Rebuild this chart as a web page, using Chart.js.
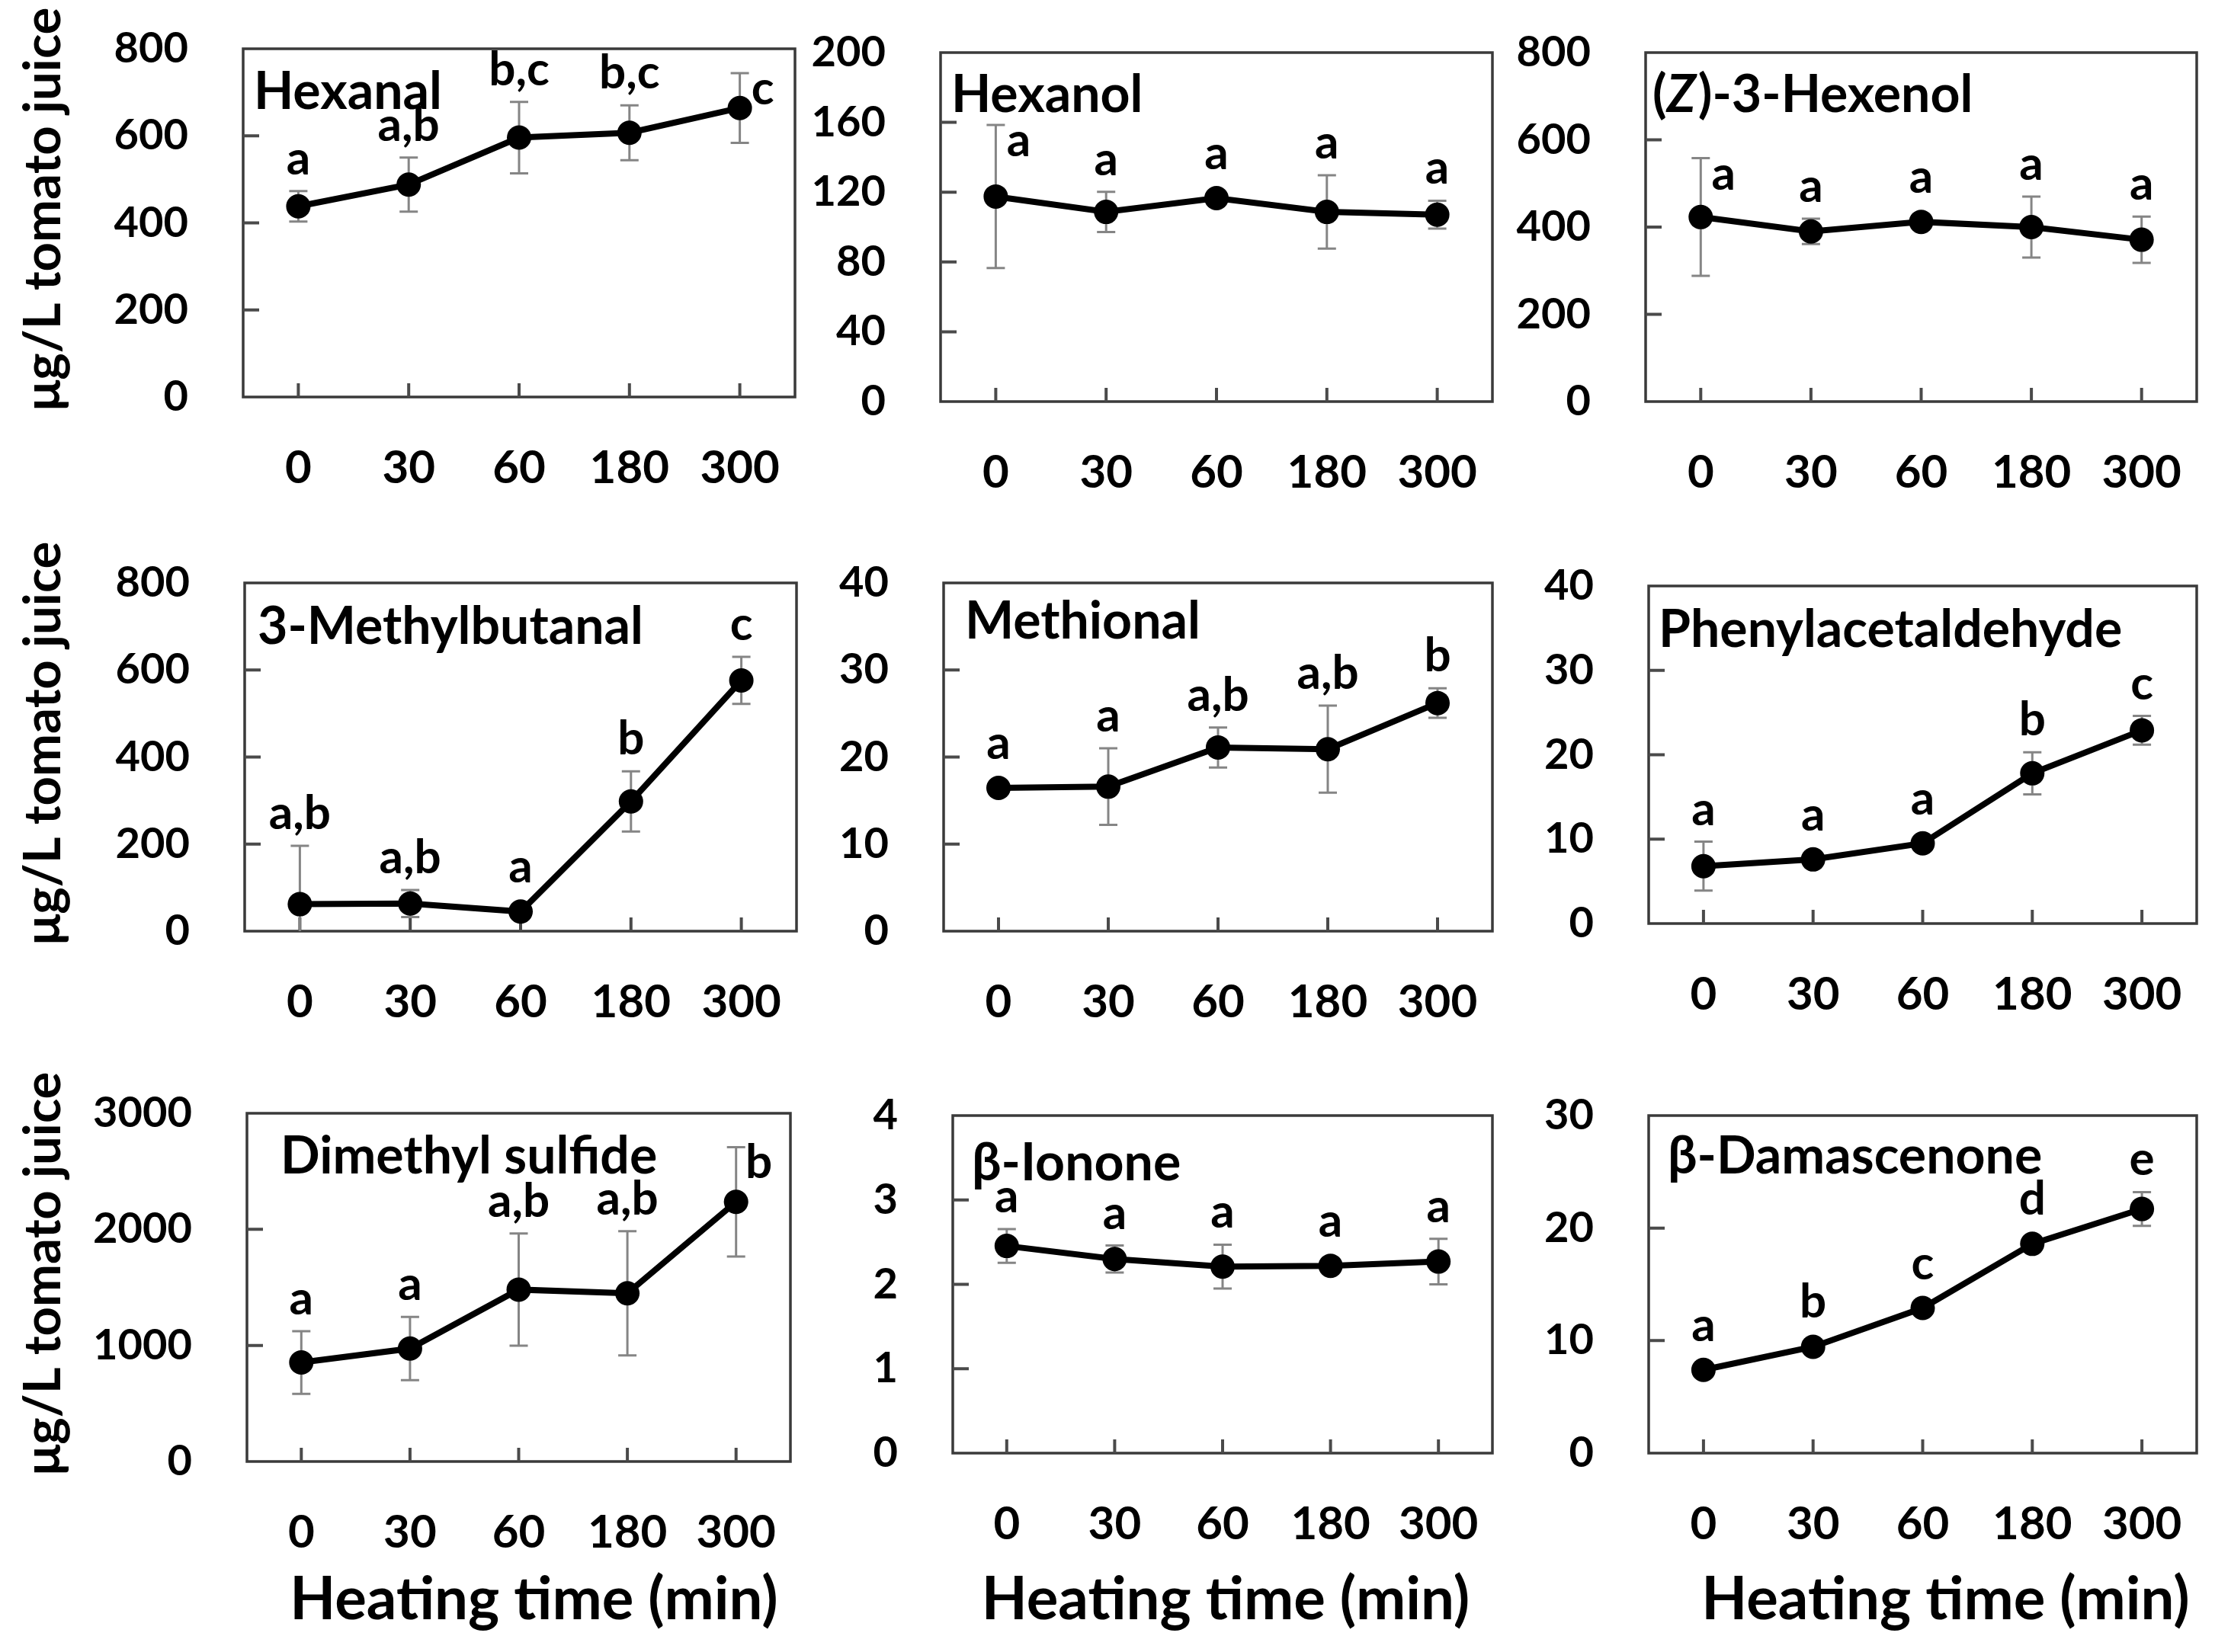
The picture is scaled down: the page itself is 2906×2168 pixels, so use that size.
<!DOCTYPE html>
<html><head><meta charset="utf-8">
<script src="https://cdn.jsdelivr.net/npm/chart.js@4.4.0/dist/chart.umd.min.js"></script>
<style>
html,body{margin:0;padding:0;background:#fff;width:2906px;height:2168px;overflow:hidden;}
#wrap{position:relative;width:2906px;height:2168px;background:#fff;}
canvas{position:absolute;}
</style></head><body><div id="wrap"></div>
<script>
// ---------- data ----------
const times = ['0', '30', '60', '180', '300'];

const hexanal = [438, 488, 596, 607, 664];
const hexanalErr = [35, 62, 82, 63, 80];
const hexanalLetters = ['a', 'a,b', 'b,c', 'b,c', 'c'];

const hexanol = [117.5, 108.7, 116.6, 108.7, 107.1];
const hexanolErr = [41, 11.5, 3, 21, 8];
const hexanolLetters = ['a', 'a', 'a', 'a', 'a'];

const hexenol = [423, 390, 412, 400, 371];
const hexenolErr = [135, 29, 10, 70, 53];
const hexenolLetters = ['a', 'a', 'a', 'a', 'a'];

const methylbutanal = [62, 63.5, 45, 298, 576];
const methylbutanalErr = [134, 31, 10, 69, 54];
const methylbutanalLetters = ['a,b', 'a,b', 'a', 'b', 'c'];

const methional = [16.45, 16.6, 21.1, 20.9, 26.2];
const methionalErr = [0.5, 4.4, 2.3, 5.0, 1.7];
const methionalLetters = ['a', 'a', 'a,b', 'a,b', 'b'];

const phenylacetaldehyde = [6.8, 7.6, 9.5, 17.8, 22.9];
const phenylacetaldehydeErr = [2.9, 0.6, 0.6, 2.5, 1.7];
const phenylacetaldehydeLetters = ['a', 'a', 'a', 'b', 'c'];

const dimethylSulfide = [853, 973, 1481, 1449, 2237];
const dimethylSulfideErr = [270, 272, 483, 535, 471];
const dimethylSulfideLetters = ['a', 'a', 'a,b', 'a,b', 'b'];

const ionone = [2.455, 2.30, 2.21, 2.22, 2.27];
const iononeErr = [0.2, 0.16, 0.26, 0.05, 0.27];
const iononeLetters = ['a', 'a', 'a', 'a', 'a'];

const damascenone = [7.4, 9.45, 12.9, 18.6, 21.7];
const damascenoneErr = [0.3, 0.3, 0.4, 0.4, 1.5];
const damascenoneLetters = ['a', 'b', 'c', 'd', 'e'];

const panelTitles = ['Hexanal', 'Hexanol', '(*Z*)-3-Hexenol', '3-Methylbutanal', 'Methional',
  'Phenylacetaldehyde', 'Dimethyl sulfide', 'β-Ionone', 'β-Damascenone'];
const yMax = [800, 200, 800, 800, 40, 40, 3000, 4, 30];
const yStep = [200, 40, 200, 200, 10, 10, 1000, 1, 10];
const yAxisTitle = 'μg/L tomato juice';
const xAxisTitle = 'Heating time (min)';
// letter placed to the right of the error bar ('r') or above it ('u')
const letterSide = [
  ['u','u','u','u','r'], ['r','u','u','u','u'], ['r','u','u','u','u'],
  ['u','u','u','u','u'], ['u','u','u','u','u'], ['u','u','u','u','u'],
  ['u','u','u','u','r'], ['u','u','u','u','u'], ['u','u','u','u','u']
];

const series = [
  [hexanal, hexanalErr, hexanalLetters],
  [hexanol, hexanolErr, hexanolLetters],
  [hexenol, hexenolErr, hexenolLetters],
  [methylbutanal, methylbutanalErr, methylbutanalLetters],
  [methional, methionalErr, methionalLetters],
  [phenylacetaldehyde, phenylacetaldehydeErr, phenylacetaldehydeLetters],
  [dimethylSulfide, dimethylSulfideErr, dimethylSulfideLetters],
  [ionone, iononeErr, iononeLetters],
  [damascenone, damascenoneErr, damascenoneLetters]
];

// ---------- layout ----------
const boxes = [
  [319, 64, 1043, 521], [1234, 69, 1958, 527], [2159, 69, 2882, 527],
  [321, 765, 1045, 1222], [1238, 765, 1958, 1222], [2163, 769, 2882, 1212],
  [324, 1461, 1037, 1918], [1250, 1464, 1958, 1907], [2163, 1464, 2882, 1907]
];
const titleOffset = [[14,79],[14,78],[9,78],[17,80],[28,73],[13,80],[44,79],[25,85],[25,76]];
const xTitleDx = {6: 20, 7: 4, 8: 30};
const FONT = 'Lato, "Open Sans", sans-serif';
const LEFT = 300, PADT = 130, PADR = 70, BOTTOM = 240;

function fnt(size, italic) { return (italic ? 'italic ' : '') + 'bold ' + size + 'px ' + FONT; }

function makePlugin(idx, originX, originY) {
  const [vals, errs, letters] = series[idx];
  return {
    id: 'deco' + idx,
    beforeDatasetsDraw(chart) {
      const ctx = chart.ctx, xs = chart.scales.x, ys = chart.scales.y, ca = chart.chartArea;
      ctx.save();
      // frame
      ctx.strokeStyle = '#3a3a3a'; ctx.lineWidth = 3.5;
      ctx.strokeRect(ca.left, ca.top, ca.right - ca.left, ca.bottom - ca.top);
      // inner ticks
      ctx.strokeStyle = '#4a4a4a'; ctx.lineWidth = 4;
      ctx.beginPath();
      ys.ticks.forEach(t => {
        if (t.value <= 0 || t.value >= yMax[idx]) return;
        const y = ys.getPixelForValue(t.value);
        ctx.moveTo(ca.left, y); ctx.lineTo(ca.left + 21, y);
      });
      for (let i = 0; i < times.length; i++) {
        const x = xs.getPixelForValue(i);
        ctx.moveTo(x, ca.bottom); ctx.lineTo(x, ca.bottom - 18);
      }
      ctx.stroke();
      // error bars
      ctx.strokeStyle = '#858585'; ctx.lineWidth = 3;
      ctx.beginPath();
      vals.forEach((v, i) => {
        const e = errs[i], x = xs.getPixelForValue(i);
        const yt = ys.getPixelForValue(v + e);
        const yb = Math.min(ca.bottom, ys.getPixelForValue(v - e));
        ctx.moveTo(x, yt); ctx.lineTo(x, yb);
        ctx.moveTo(x - 12, yt); ctx.lineTo(x + 12, yt);
        if (v - e > 0) { ctx.moveTo(x - 12, yb); ctx.lineTo(x + 12, yb); }
      });
      ctx.stroke();
      ctx.restore();
    },
    afterDatasetsDraw(chart) {
      const ctx = chart.ctx, xs = chart.scales.x, ys = chart.scales.y, ca = chart.chartArea;
      ctx.save();
      ctx.fillStyle = '#000';
      // panel title (with italic segments)
      const parts = panelTitles[idx].split('*');
      let tx = ca.left + titleOffset[idx][0];
      const ty = ca.top + titleOffset[idx][1];
      ctx.textAlign = 'left'; ctx.textBaseline = 'alphabetic';
      parts.forEach((p, k) => {
        if (!p) return;
        ctx.font = fnt(68, k % 2 === 1);
        ctx.fillText(p, tx, ty);
        tx += ctx.measureText(p).width + (k % 2 === 1 ? 3 : 0);
      });
      // significance letters
      ctx.font = fnt(62);
      ctx.textAlign = 'center';
      vals.forEach((v, i) => {
        const x = xs.getPixelForValue(i);
        const yTop = ys.getPixelForValue(v + errs[i]);
        const py = ys.getPixelForValue(v);
        if (letterSide[idx][i] === 'r') {
          ctx.fillText(letters[i], x + 30, yTop + 25 + 16);
        } else {
          const top = Math.min(yTop, py - 16);
          ctx.fillText(letters[i], x, top - 38 + 16);
        }
      });
      // y axis title (first column)
      if (idx % 3 === 0) {
        ctx.save();
        ctx.translate(57 - originX, (ca.top + ca.bottom) / 2 - 18);
        ctx.rotate(-Math.PI / 2);
        ctx.font = fnt(67);
        ctx.textAlign = 'center'; ctx.textBaseline = 'middle';
        ctx.fillText(yAxisTitle, 0, 0);
        ctx.restore();
      }
      // x axis title (bottom row)
      if (idx >= 6) {
        ctx.font = fnt(78);
        ctx.textAlign = 'center'; ctx.textBaseline = 'middle';
        ctx.fillText(xAxisTitle, (ca.left + ca.right) / 2 + xTitleDx[idx], 2100 - originY);
      }
      ctx.restore();
    }
  };
}

const wrap = document.getElementById('wrap');
boxes.forEach((b, idx) => {
  const [L, T, R, B] = b;
  const ox = L - LEFT, oy = T - PADT;
  const W = LEFT + (R - L) + PADR, H = PADT + (B - T) + BOTTOM;
  const cv = document.createElement('canvas');
  cv.width = W; cv.height = H;
  cv.style.left = ox + 'px'; cv.style.top = oy + 'px';
  cv.style.width = W + 'px'; cv.style.height = H + 'px';
  wrap.appendChild(cv);
  new Chart(cv, {
    type: 'line',
    data: {
      labels: times,
      datasets: [{
        data: series[idx][0],
        borderColor: '#000', backgroundColor: '#000', borderWidth: 8,
        pointRadius: 16, pointHoverRadius: 16, pointBackgroundColor: '#000',
        pointBorderColor: '#000', pointBorderWidth: 0, tension: 0, clip: false
      }]
    },
    options: {
      responsive: false, animation: false, devicePixelRatio: 1, events: [],
      layout: { padding: { left: 0, top: PADT, right: PADR, bottom: 0 } },
      plugins: { legend: { display: false }, tooltip: { enabled: false } },
      scales: {
        x: {
          type: 'category', offset: true,
          grid: { display: false, drawTicks: false }, border: { display: false },
          ticks: { color: '#000', font: { family: FONT, size: 60, weight: 'bold' }, padding: 58, maxRotation: 0, autoSkip: false },
          afterFit(s) { s.height = BOTTOM; }
        },
        y: {
          type: 'linear', min: 0, max: yMax[idx],
          grid: { display: false, drawTicks: false }, border: { display: false },
          ticks: { stepSize: yStep[idx], color: '#000', font: { family: FONT, size: 56, weight: 'bold' }, padding: 72,
                   callback: v => String(v) },
          afterFit(s) { s.width = LEFT; }
        }
      }
    },
    plugins: [makePlugin(idx, ox, oy)]
  });
});
</script>
</body></html>
